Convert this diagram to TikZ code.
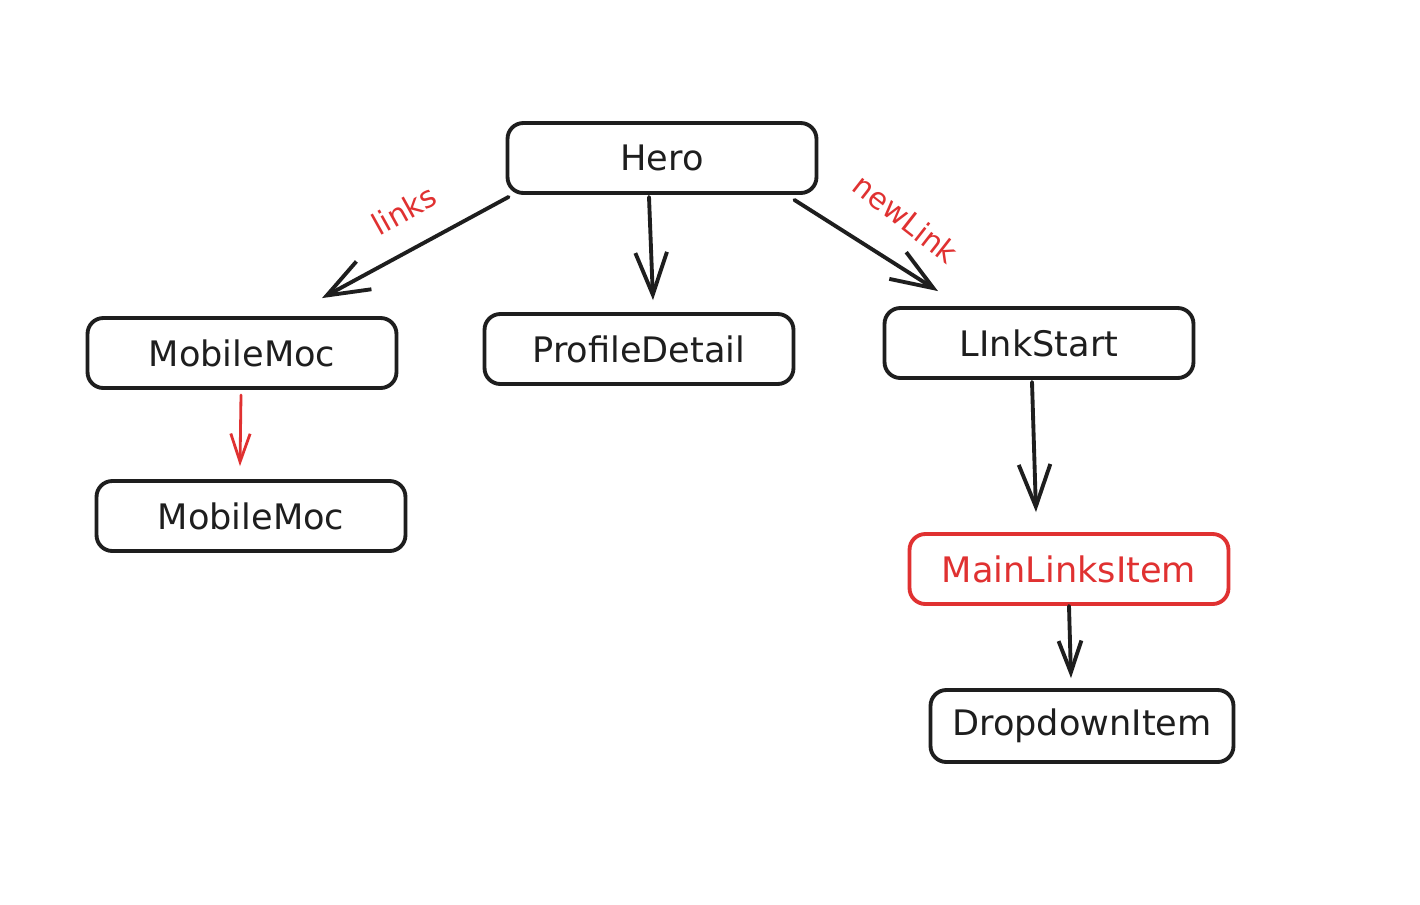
\documentclass[tikz,border=0pt]{standalone}
\usepackage{fontspec}
\setmainfont{DejaVu Sans}
\usetikzlibrary{arrows.meta}
\definecolor{ink}{HTML}{1E1E1E}
\definecolor{exred}{HTML}{E03131}
\begin{document}
\begin{tikzpicture}[x=0.02cm,y=-0.02cm,
  box/.style={draw=ink, line width=2.2pt, rounded corners=9pt, minimum width=6.18cm, minimum height=1.4cm, inner sep=0pt, font=\fontsize{20}{24}\selectfont, text=ink},
  arr/.style={draw=ink, line width=2.2pt, line cap=round, -{Straight Barb[length=24pt,width=18pt,line width=2.2pt]}},
  lbl/.style={text=exred, font=\fontsize{17}{20}\selectfont}]
\path[use as bounding box, fill=white] (0,0) rectangle (1420,904);
\node[box] (hero) at (662,158) {Hero};
\node[box] (mm1) at (242,353) {MobileMoc};
\node[box] (pd) at (639,349) {ProfileDetail};
\node[box] (ls) at (1039,343) {LInkStart};
\node[box] (mm2) at (251,516) {MobileMoc};
\node[box, draw=exred, text=exred, minimum width=6.38cm] (mli) at (1069,569) {MainLinksItem};
\node[box, minimum width=6.06cm, minimum height=1.44cm] (dd) at (1082,726) {DropdownItem};
\draw[arr] ([shift={(3,2)}]hero.south west) -- ([shift={(80,-18)}]mm1.north);
\draw[arr] ([shift={(-13,2)}]hero.south) -- ([shift={(14,-12)}]pd.north);
\draw[arr] ([shift={(-24,5)}]hero.south east) -- ([shift={(-101,-15)}]ls.north);
\draw[arr, draw=exred, line width=1.6pt, -{Straight Barb[length=16pt,width=11pt,line width=1.6pt]}] ([shift={(-1,5)}]mm1.south) -- ([shift={(-11,-13)}]mm2.north);
\draw[arr] ([shift={(-7,2)}]ls.south) -- ([shift={(-33,-20)}]mli.north);
\draw[arr, -{Straight Barb[length=18pt,width=13pt,line width=2.2pt]}] (mli.south) -- ([shift={(-11,-10)}]dd.north);
\node[lbl, rotate=29] (l1) at (404,210) {links};
\node[lbl, rotate=-38] (l2) at (906,219) {newLink};
\end{tikzpicture}
\end{document}
